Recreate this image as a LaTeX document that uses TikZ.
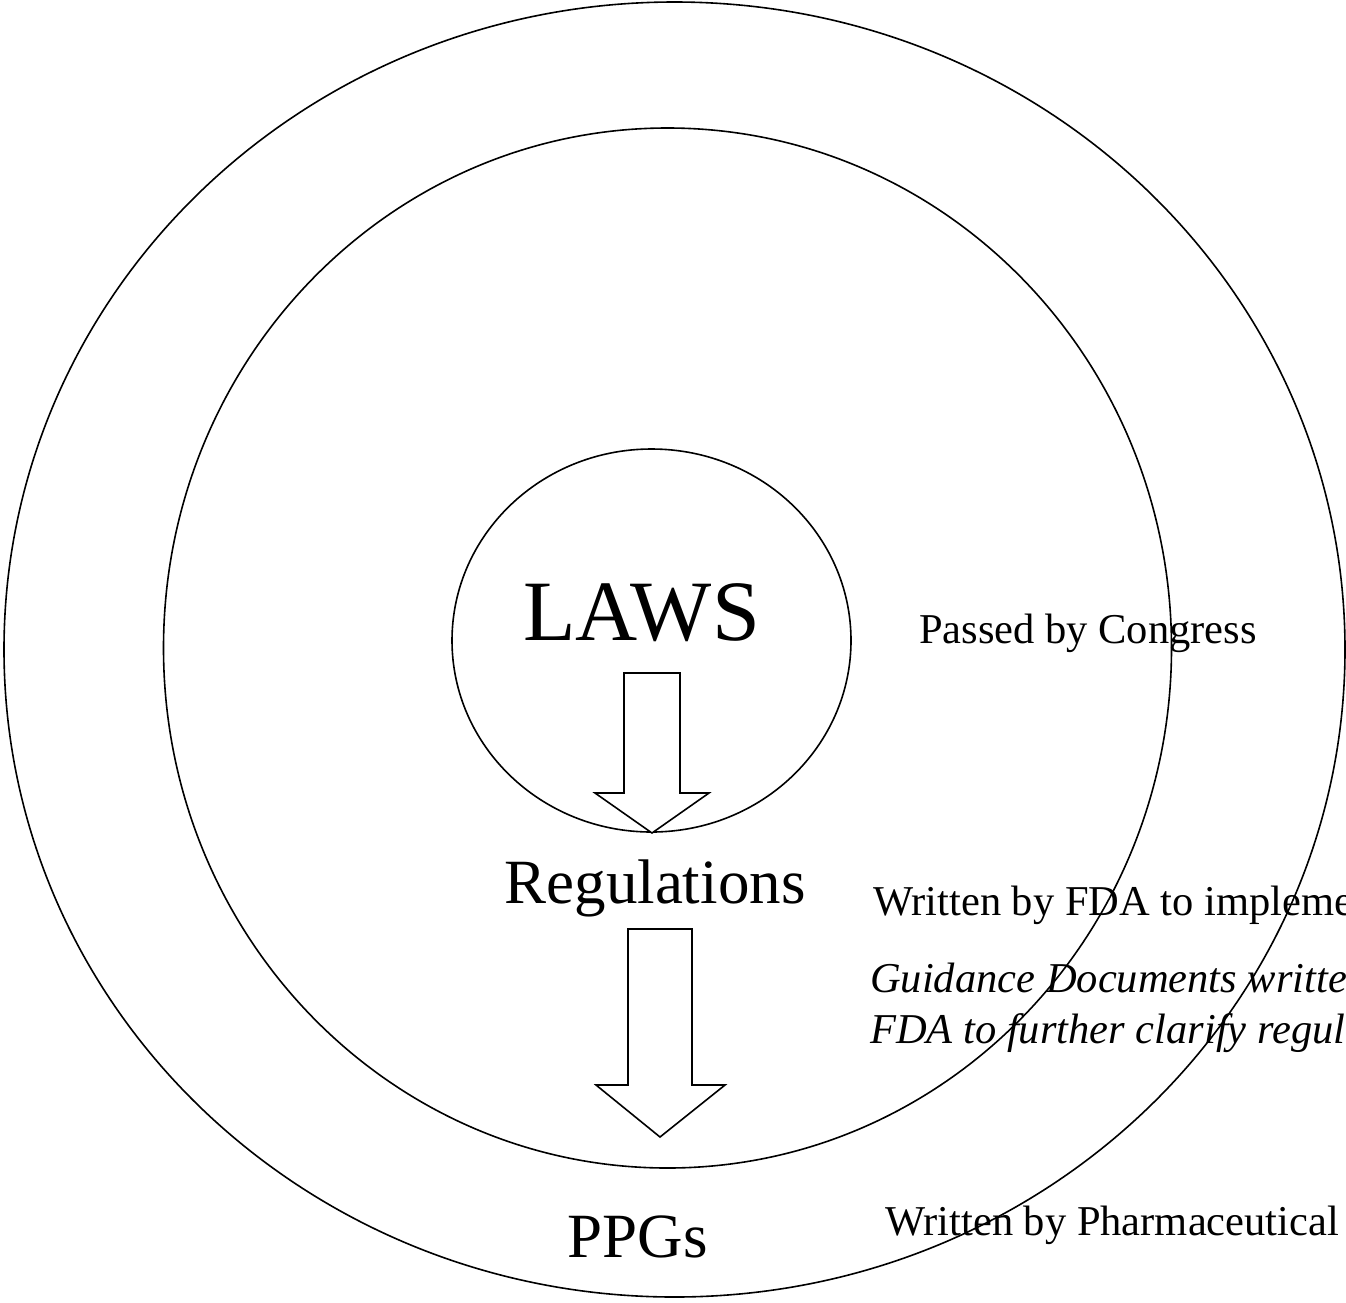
\documentclass[tikz,border=0pt]{standalone}
\usepackage{fontspec}
\setmainfont{Liberation Serif}
\begin{document}
\begin{tikzpicture}[x=1pt,y=-1pt,
  ring/.style={draw=black,line width=1.6pt,fill=none},
  bigarrow/.style={draw=black,line width=1.6pt,fill=white,line join=miter},
  level/.style={anchor=base,inner sep=0pt},
  note/.style={anchor=base west,inner sep=0pt,font=\fontsize{42.5}{50}\selectfont},
  inote/.style={note,font=\fontsize{42.5}{50}\selectfont\itshape}]
\useasboundingbox (0,0) rectangle (1346,1302);
\clip (0,0) rectangle (1346,1302);
% nested scopes of authority
\draw[ring] (674.5,649.5) ellipse [x radius=670.5, y radius=647.5];
\draw[ring] (667.5,648) ellipse [x radius=504, y radius=520];
\draw[ring] (651.5,640.5) ellipse [x radius=199.5, y radius=191.5];
% level titles
\node[level,font=\fontsize{86}{96}\selectfont] (laws) at (641.5,640) {LAWS};
\node[level,font=\fontsize{63}{72}\selectfont] (regs) at (655,903) {Regulations};
\node[level,font=\fontsize{63}{72}\selectfont] (ppgs) at (637.5,1257) {PPGs};
% block arrows between levels
\draw[bigarrow] (624,673) -- (680,673) -- (680,793) -- (709,793) -- (652,833)
  -- (595,793) -- (624,793) -- cycle;
\draw[bigarrow] (628,929) -- (692,929) -- (692,1085) -- (725,1085) -- (660,1137)
  -- (596,1085) -- (628,1085) -- cycle;
% side notes
\node[note] (nlaws) at (919,643) {Passed by Congress};
\node[note] (nregs) at (873,915) {Written by FDA to impleme};
\node[inote] (nguide1) at (870,992) {Guidance Documents writte};
\node[inote] (nguide2) at (870,1043) {FDA to further clarify regul};
\node[note] (nppgs) at (885,1235) {Written by Pharmaceutical};
\end{tikzpicture}
\end{document}
